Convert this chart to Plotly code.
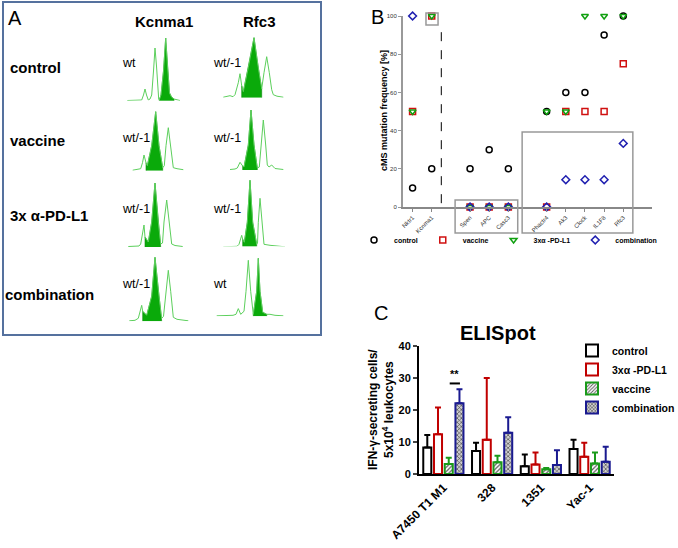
import plotly.graph_objects as go

# ---------------- DATA ----------------
# Panel A: electropherogram traces (time units, signal height), fill = mutant-peak window
treatments_A = ["control", "vaccine", "3x α-PD-L1", "combination"]
genes_A = ["Kcnma1", "Rfc3"]
calls_kcnma1 = ["wt", "wt/-1", "wt/-1", "wt/-1"]
calls_rfc3 = ["wt/-1", "wt/-1", "wt/-1", "wt"]

kc_ctrl_x = [2.3, 10, 15, 16.7, 18.5, 20, 21.5, 23.3, 25, 26.7, 28.5, 30, 31.5, 32.5, 33.7, 34.3, 36, 38.5, 40.7, 42.5, 44.5, 46.5, 49, 51, 55]
kc_ctrl_y = [0.5, 0.5, 0.5, 1, 6, 12, 6, 1, 2, 6, 30, 53, 35, 15, 2, 1, 6, 30, 63, 35, 8, 4, 2, 1.5, 0.5]
kc_ctrl_fill = [34.3, 49]
rf_ctrl_x = [8.3, 12, 15, 18, 20, 23.3, 25, 26.7, 28.3, 33.3, 39, 43.3, 46.7, 49, 51.7, 54.3, 56.7, 58.3, 62, 68.3]
rf_ctrl_y = [0.5, 1, 2, 1, 3, 15, 24, 12, 6, 30, 60, 30, 9, 25, 41, 25, 8, 3, 1.5, 0.5]
rf_ctrl_fill = [26.7, 46.7]

kc_vac_x = [7.7, 12, 15.7, 17.5, 19, 21, 22.3, 26.7, 30.7, 34, 37.7, 39.3, 41, 43.3, 45.7, 48.3, 52, 58.3]
kc_vac_y = [0.5, 1, 2, 8, 15.7, 8, 5, 25, 59, 25, 3, 5, 25, 43, 25, 3, 2, 1]
kc_vac_fill = [21, 37.7]
rf_vac_x = [15, 20, 22.3, 25, 27.7, 29, 33.3, 36, 39, 42.3, 44.3, 46.7, 48.3, 50.7, 52.3, 54, 56.7, 60, 68.3]
rf_vac_y = [0.5, 1, 2, 7.7, 4, 3, 25, 60, 25, 2, 3, 30, 50, 25, 5, 3, 5, 1.5, 0.5]
rf_vac_fill = [27.7, 42.3]

kc_pd_x = [3.3, 10, 14, 15.7, 17.5, 19, 20, 23.3, 26.7, 30, 33.3, 35.7, 37.5, 39, 41.7, 44.3, 46.7, 50, 57.7]
kc_pd_y = [0.5, 0.5, 1, 3, 12, 22, 10, 5, 25, 64, 25, 3, 4, 25, 47, 25, 3, 1.5, 0.5]
kc_pd_fill = [20, 35.7]
rf_pd_x = [8.3, 15, 22, 24, 26.7, 27.7, 29.3, 32.3, 35, 37.7, 41.7, 42.5, 43.3, 45, 47, 49, 55, 62, 70]
rf_pd_y = [0.5, 0.5, 1, 3, 12, 8, 5, 25, 67, 25, 3, 4, 25, 49, 25, 3, 2, 1, 0.5]
rf_pd_fill = [27.7, 41.7]

kc_comb_x = [4.3, 10, 13.3, 15, 16.7, 17.7, 21.7, 26.7, 30, 34, 36.7, 38.5, 40.7, 43.3, 45.7, 48.3, 52, 58, 63.3]
kc_comb_y = [0.5, 1, 3, 10, 16, 10, 6, 25, 64, 25, 3, 5, 30, 51, 30, 4, 2, 1, 0.5]
kc_comb_fill = [17.7, 36.7]
rf_comb_x = [1.7, 10, 18, 21, 23.3, 25.7, 29, 31, 33.3, 35.7, 37.7, 38.3, 41.7, 43.3, 45, 47.7, 51.7, 55, 60, 68.3]
rf_comb_y = [0.5, 1, 1, 2, 7.7, 2, 5, 25, 56, 25, 3, 2, 25, 58, 25, 4, 2, 2, 1, 0.5]
rf_comb_fill = [38.3, 51.7]

# Panel B: cMS mutation frequency [%]
gene_groups_B = [["Nktr1", "Kcnma1"], ["Spen", "APC", "Casc3"], ["Phactr4", "Ak3", "Clock", "IL1F8", "Rfc3"]]
series_B = ["control", "vaccine", "3xα -PD-L1", "combination"]
control_B = [10, 20, 20, 30, 20, 50, 60, 60, 90, 100]
vaccine_B = [50, 100, 0, 0, 0, 0, 50, 50, 50, 75]
pdl1_B = [50, 100, 0, 0, 0, 50, 50, 100, 100, 100]
combo_B = [100, None, 0, 0, 0, 0, 14.3, 14.3, 14.3, 33.3]

# Panel C: ELISpot
cells_C = ["A7450 T1 M1", "328", "1351", "Yac-1"]
series_C = ["control", "3xα -PD-L1", "vaccine", "combination"]
elis_control = [8.3, 7.2, 2.4, 7.8]
elis_control_err = [3.9, 2.6, 3.7, 2.9]
elis_pdl1 = [12.4, 10.7, 3.0, 5.4]
elis_pdl1_err = [8.4, 19.3, 3.7, 4.4]
elis_vaccine = [3.1, 3.7, 1.5, 3.3]
elis_vaccine_err = [2.0, 2.0, 0.4, 3.4]
elis_combo = [22.1, 12.9, 2.8, 3.8]
elis_combo_err = [4.4, 4.8, 4.6, 4.7]

# ---------------- FIGURE ----------------
W, H = 678, 548
FONT = "Liberation Sans, Arial, sans-serif"
def px(x): return x / W
def py(y): return 1 - y / H

def note(text, x, y, size, xanchor="center", yanchor="middle", angle=0, xref="paper", yref="paper", conv=True):
    return dict(text=text, x=px(x) if conv else x, y=py(y) if conv else y, xref=xref, yref=yref,
                xanchor=xanchor, yanchor=yanchor, textangle=angle, showarrow=False, font=dict(size=size))

fig = go.Figure()
layout = dict(width=W, height=H, margin=dict(l=0, r=0, t=0, b=0, pad=0, autoexpand=False),
              paper_bgcolor="white", plot_bgcolor="white", template="none",
              font=dict(family=FONT, color="black"), showlegend=True,
              barmode="group", bargap=0.12, bargroupgap=0.25)
annotations = []
shapes = []

# ----- Panel A -----
LINE_GREEN = "#5ccf5c"
FILL_GREEN = "#0aaa0a"
cells_A = [
    (kc_ctrl_x, kc_ctrl_y, kc_ctrl_fill), (rf_ctrl_x, rf_ctrl_y, rf_ctrl_fill),
    (kc_vac_x, kc_vac_y, kc_vac_fill), (rf_vac_x, rf_vac_y, rf_vac_fill),
    (kc_pd_x, kc_pd_y, kc_pd_fill), (rf_pd_x, rf_pd_y, rf_pd_fill),
    (kc_comb_x, kc_comb_y, kc_comb_fill), (rf_comb_x, rf_comb_y, rf_comb_fill),
]
base_kc = [101, 170.7, 247, 321.3]
base_rf = [97.7, 170, 247.3, 316.3]
for i, (xs, ys, fr) in enumerate(cells_A):
    row, col = divmod(i, 2)
    n = 3 + i
    if col == 0:
        x0, x1, xr, base = 125, 195, 70, base_kc[row]
    else:
        x0, x1, xr, base = 215, 290, 75, base_rf[row]
    layout[f"xaxis{n}"] = dict(domain=[px(x0), px(x1)], range=[0, xr], visible=False,
                               anchor=f"y{n}", fixedrange=True, automargin=False)
    layout[f"yaxis{n}"] = dict(domain=[py(base), py(base - 70)], range=[0, 70], visible=False,
                               anchor=f"x{n}", fixedrange=True, automargin=False)
    fx = [x for x in xs if fr[0] <= x <= fr[1]]
    fy = [y for x, y in zip(xs, ys) if fr[0] <= x <= fr[1]]
    fig.add_trace(go.Scatter(x=[fr[0]] + fx + [fr[1]], y=[0] + fy + [0], fill="toself",
                             fillcolor=FILL_GREEN, mode="lines", line=dict(width=0.6, color="#0a8a0a"),
                             xaxis=f"x{n}", yaxis=f"y{n}", showlegend=False, hoverinfo="skip"))
    fig.add_trace(go.Scatter(x=xs, y=ys, mode="lines", line=dict(width=1, color=LINE_GREEN),
                             xaxis=f"x{n}", yaxis=f"y{n}", showlegend=False, hoverinfo="skip"))

shapes.append(dict(type="rect", xref="paper", yref="paper", x0=px(3), x1=px(321), y0=py(335), y1=py(2),
                   line=dict(color="#55719e", width=2)))
annotations.append(note("A", 6, 18, 20, xanchor="left"))
for g, cx in zip(genes_A, [163.5, 259]):
    annotations.append(note(f"<b>{g}</b>", cx, 21, 15))
for t, (lx, ly) in zip(treatments_A, [(8, 68), (8, 140), (8, 215), (3, 294)]):
    annotations.append(note(f"<b>{t}</b>", lx, ly, 15, xanchor="left"))
for row, ly in enumerate([63, 138, 209, 284]):
    annotations.append(note(calls_kcnma1[row], 120, ly, 12.5, xanchor="left"))
    annotations.append(note(calls_rfc3[row], 211, ly, 12.5, xanchor="left"))

# ----- Panel B -----
genes_B, pos_B, group_spans = [], [], []
p = 0
for gi, grp in enumerate(gene_groups_B):
    start = p
    for g in grp:
        genes_B.append(g); pos_B.append(p); p += 1
    group_spans.append((start, p - 1))
    p += 1
colors_B = ["black", "#d01010", "#10a010", "#2020b0"]
symbols_B = ["circle-open", "square-open", "triangle-down-open", "diamond-open"]
for name, vals, sym, c in zip(series_B, [control_B, vaccine_B, pdl1_B, combo_B], symbols_B, colors_B):
    fig.add_trace(go.Scatter(x=pos_B, y=vals, mode="markers", name=name, cliponaxis=False,
                             marker=dict(symbol=sym, size=6, color=c, line=dict(width=1.5, color=c)),
                             xaxis="x", yaxis="y", legend="legend"))
layout["xaxis"] = dict(domain=[px(403), px(652)], range=[-0.5, p - 1 + 0.5], anchor="y",
                       tickmode="array", tickvals=pos_B, ticktext=genes_B, tickangle=-45,
                       showline=True, linecolor="#888", linewidth=1.5, ticks="outside", ticklen=3,
                       tickcolor="#888", tickfont=dict(size=6, color="#333"), showgrid=False,
                       zeroline=False, fixedrange=True, automargin=False)
layout["yaxis"] = dict(domain=[py(207), py(16)], range=[0, 100], anchor="x", tickvals=[0, 20, 40, 60, 80, 100],
                       showline=True, linecolor="#999", linewidth=2, ticks="outside", ticklen=3,
                       tickcolor="#999", tickfont=dict(size=6, color="#333"), showgrid=False,
                       zeroline=False, fixedrange=True, automargin=False)
sep = (group_spans[0][1] + group_spans[1][0]) / 2
shapes.append(dict(type="line", xref="x", yref="y", x0=sep - 0.5, x1=sep - 0.5, y0=2, y1=93,
                   line=dict(color="black", width=1, dash="dash")))
shapes.append(dict(type="rect", xref="x", yref="paper", x0=pos_B[1] - 0.3, x1=pos_B[1] + 0.33,
                   y0=py(25), y1=py(13), line=dict(color="#999", width=1.5)))
s, e = group_spans[1]
shapes.append(dict(type="rect", xref="x", yref="paper", x0=s - 0.78, x1=e + 0.49,
                   y0=py(233), y1=py(200), line=dict(color="#999", width=1.5)))
s, e = group_spans[2]
shapes.append(dict(type="rect", xref="x", yref="paper", x0=s - 1.28, x1=e + 0.5,
                   y0=py(233), y1=py(132), line=dict(color="#999", width=1.5)))
annotations.append(note("B", 369, 17, 20, xanchor="left"))
annotations.append(note("<b>cMS mutation frequency [%]</b>", 384, 111, 9, angle=-90))
layout["legend"] = dict(orientation="h", x=px(354), y=py(240), xanchor="left", yanchor="middle",
                        font=dict(size=7, weight="bold"), bgcolor="rgba(0,0,0,0)", itemwidth=30)

# ----- Panel C -----
colors_C = ["black", "#c00000", "#1a9a1a", "#1a1a90"]
vals_C = [elis_control, elis_pdl1, elis_vaccine, elis_combo]
errs_C = [elis_control_err, elis_pdl1_err, elis_vaccine_err, elis_combo_err]
patterns_C = [dict(shape=""), dict(shape=""),
              dict(shape="/", fgcolor="#5a5a5a", bgcolor="white", size=3, solidity=0.4),
              dict(shape="x", fgcolor="#333333", bgcolor="#cfcfcf", size=3, solidity=0.35)]
for name, v, er, c, pat in zip(series_C, vals_C, errs_C, colors_C, patterns_C):
    fig.add_trace(go.Bar(x=cells_C, y=v, name=name, xaxis="x2", yaxis="y2", legend="legend2",
                         marker=dict(color="white", line=dict(color=c, width=2), pattern=pat),
                         error_y=dict(type="data", array=er, arrayminus=[0] * len(er), symmetric=False,
                                      color=c, thickness=2, width=3),
                         cliponaxis=False))
layout["xaxis2"] = dict(domain=[px(419), px(614)], range=[-0.5, 3.5], anchor="y2", type="category",
                        showline=True, linecolor="black", linewidth=2, ticks="", tickangle=-45,
                        tickfont=dict(size=12, weight="bold"), showgrid=False, zeroline=False,
                        fixedrange=True, automargin=False)
layout["yaxis2"] = dict(domain=[py(474), py(346)], range=[0, 40], anchor="x2", tickvals=[0, 10, 20, 30, 40],
                        showline=True, linecolor="black", linewidth=2, ticks="outside", ticklen=4,
                        tickwidth=2, tickfont=dict(size=11, weight="bold"), showgrid=False,
                        zeroline=False, fixedrange=True, automargin=False)
annotations.append(note("C", 372, 313, 20, xanchor="left"))
annotations.append(note("<b>ELISpot</b>", 498, 333, 20))
annotations.append(note("<b>IFN-γ-secreting cells/<br>5x10<sup>4</sup> leukocytes</b>", 381, 410, 12, angle=-90))
shapes.append(dict(type="line", xref="x2", yref="y2", x0=0.13, x1=0.34, y0=28.3, y1=28.3,
                   line=dict(color="black", width=2)))
annotations.append(note("<b>**</b>", 0.235, 28.6, 11, yanchor="bottom", xref="x2", yref="y2", conv=False))
layout["legend2"] = dict(x=px(572), y=py(336), xanchor="left", yanchor="top",
                         font=dict(size=10.5, weight="bold"), bgcolor="rgba(0,0,0,0)", itemwidth=30)

layout["annotations"] = annotations
layout["shapes"] = shapes
fig.update_layout(**layout)
fig.write_html("out.html", config={"displayModeBar": False},
               post_script="document.body.style.margin='0px';document.body.style.overflow='hidden';")
